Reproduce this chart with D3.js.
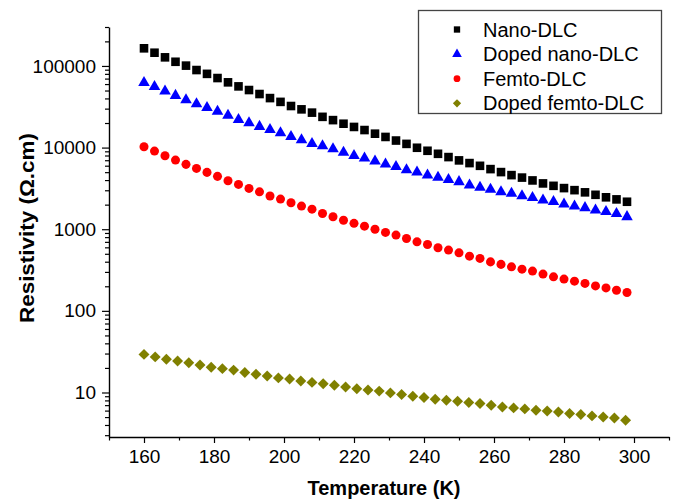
<!DOCTYPE html>
<html>
<head>
<meta charset="utf-8">
<script src="https://cdn.jsdelivr.net/npm/d3@7"></script>
<style>
  html, body { margin: 0; padding: 0; background: #fff; }
  svg { display: block; font-family: "Liberation Sans", Arial, sans-serif; }
</style>
</head>
<body>
<svg id="chart" width="674" height="500"></svg>
<script>
// ---- data ----
const temperature = [160,163,166,169,172,175,178,181,184,187,190,193,196,199,202,205,208,211,214,217,220,223,226,229,232,235,238,241,244,247,250,253,256,259,262,265,268,271,274,277,280,283,286,289,292,295,298];
const temperatureDopedFemto = [160,163.2,166.4,169.6,172.8,176,179.2,182.4,185.6,188.8,192,195.2,198.4,201.6,204.8,208,211.2,214.4,217.6,220.8,224,227.2,230.4,233.6,236.8,240,243.2,246.4,249.6,252.8,256,259.2,262.4,265.6,268.8,272,275.2,278.4,281.6,284.8,288,291.2,294.4,297.6];

const nanoDLC = [164400,145200,127500,112500,100900,89100,80000,71100,63000,56200,50700,45300,40400,36300,32300,29400,26800,23800,21700,19600,17900,16400,14800,13500,12200,11100,9950,9140,8390,7650,6970,6460,5980,5450,5010,4600,4290,3960,3640,3400,3190,3010,2830,2640,2460,2320,2170];
const dopedNanoDLC = [62300,55600,49200,43400,38400,34300,30900,27800,24700,22000,20100,18100,16600,15100,13600,12400,11200,10500,9640,8730,7980,7430,6830,6280,5820,5340,5010,4600,4310,4050,3810,3470,3250,3070,2870,2750,2560,2430,2270,2170,2030,1920,1830,1710,1640,1550,1420];
const femtoDLC = [10230,9060,7940,7030,6230,5560,4970,4440,3920,3540,3160,2870,2550,2340,2110,1920,1760,1560,1420,1290,1180,1090,1000,914,847,771,701,651,592,555,514,468,439,398,371,346,324,307,282,261,245,231,217,202,191,179,168];
const dopedFemtoDLC = [29.3,27.3,25.6,24.3,23.2,21.7,20.4,19.6,18.8,17.6,16.7,15.9,15.1,14.6,13.8,13.3,12.8,12.3,11.7,11.1,10.7,10.4,9.89,9.44,9.02,8.69,8.28,8.05,7.82,7.54,7.33,6.99,6.66,6.48,6.30,6.07,5.95,5.78,5.53,5.38,5.17,5.02,4.88,4.58];

const seriesNames = ["Nano-DLC", "Doped nano-DLC", "Femto-DLC", "Doped femto-DLC"];
const seriesColors = ["#000000", "#0000ff", "#ff0000", "#808000"];

const xMajorTicks = [160,180,200,220,240,260,280,300];
const xMinorTicks = [150,170,190,210,230,250,270,290,310];
const yMajorTicks = [10,100,1000,10000,100000];
const yMinorTicks = [3,4,5,6,7,8,9,20,30,40,50,60,70,80,90,200,300,400,500,600,700,800,900,2000,3000,4000,5000,6000,7000,8000,9000,20000,30000,40000,50000,60000,70000,80000,90000,200000,300000];

const xTitle = "Temperature (K)";
const yTitle = "Resistivity (\u03A9.cm)";

// ---- layout ----
const svg = d3.select("#chart");
const mLeft = 109, mRight = 669, mTop = 27, mBottom = 437;

const x = d3.scaleLinear().domain([150, 310]).range([mLeft, mRight]);
const y = d3.scaleLog().domain([2.85, 300000]).range([mBottom, mTop]);

const tickFont = "19px";

// x axis minor
svg.append("g").attr("transform", `translate(0,${mBottom})`)
  .call(d3.axisBottom(x).tickValues(xMinorTicks).tickSize(3.5).tickSizeOuter(0).tickFormat(""))
  .call(g => g.select(".domain").remove());
// x axis major
const gx = svg.append("g").attr("transform", `translate(0,${mBottom})`)
  .call(d3.axisBottom(x).tickValues(xMajorTicks).tickSize(6).tickSizeOuter(0).tickPadding(7).tickFormat(d3.format("d")));
gx.selectAll("text").attr("font-size", tickFont).attr("fill", "#000").attr("font-family", "Liberation Sans, Arial, sans-serif");

// y axis minor
svg.append("g").attr("transform", `translate(${mLeft},0)`)
  .call(d3.axisLeft(y).tickValues(yMinorTicks).tickSize(4).tickSizeOuter(0).tickFormat(""))
  .call(g => g.select(".domain").remove());
// y axis major
const gy = svg.append("g").attr("transform", `translate(${mLeft},0)`)
  .call(d3.axisLeft(y).tickValues(yMajorTicks).tickSize(7).tickSizeOuter(0).tickPadding(6).tickFormat(d3.format("d")));
gy.selectAll("text").attr("font-size", tickFont).attr("fill", "#000").attr("font-family", "Liberation Sans, Arial, sans-serif");

svg.selectAll(".domain").attr("stroke", "#000").attr("stroke-width", 1.4);
svg.selectAll(".tick line").attr("stroke", "#000").attr("stroke-width", 1.2);

// axis titles
svg.append("text")
  .attr("x", (mLeft + mRight) / 2 - 5).attr("y", 495)
  .attr("text-anchor", "middle")
  .attr("font-size", "20px").attr("font-weight", "bold")
  .text(xTitle);

svg.append("text")
  .attr("transform", `translate(34,228) rotate(-90)`)
  .attr("text-anchor", "middle")
  .attr("font-size", "21px").attr("font-weight", "bold")
  .attr("textLength", 190).attr("lengthAdjust", "spacingAndGlyphs")
  .text(yTitle);

// ---- markers ----
const sym = [
  d3.symbol(d3.symbolSquare, 74),
  d3.symbol(d3.symbolTriangle, 58),
  d3.symbol(d3.symbolCircle, 64),
  d3.symbol(d3.symbolSquare, 60)
];
const rot = [0, 0, 0, 45];

const datasets = [
  temperature.map((t, i) => [t, nanoDLC[i]]),
  temperature.map((t, i) => [t, dopedNanoDLC[i]]),
  temperature.map((t, i) => [t, femtoDLC[i]]),
  temperatureDopedFemto.map((t, i) => [t, dopedFemtoDLC[i]])
];

datasets.forEach((data, k) => {
  svg.append("g").selectAll("path")
    .data(data).join("path")
    .attr("d", sym[k])
    .attr("transform", d => `translate(${x(d[0])},${y(d[1])}) rotate(${rot[k]})`)
    .attr("fill", seriesColors[k]);
});

// ---- legend ----
const lg = svg.append("g");
lg.append("rect").attr("x", 418.5).attr("y", 10.5).attr("width", 243).attr("height", 103)
  .attr("fill", "#fff").attr("stroke", "#444").attr("stroke-width", 1.3);
const legSym = [
  d3.symbol(d3.symbolSquare, 40),
  d3.symbol(d3.symbolTriangle, 40),
  d3.symbol(d3.symbolCircle, 36),
  d3.symbol(d3.symbolSquare, 34)
];
seriesNames.forEach((name, k) => {
  const cy = 29.5 + k * 24.6;
  lg.append("path").attr("d", legSym[k])
    .attr("transform", `translate(457,${cy}) rotate(${rot[k]})`)
    .attr("fill", seriesColors[k]);
  lg.append("text").attr("x", 483).attr("y", cy).attr("dy", "0.35em")
    .attr("font-size", "20px").attr("fill", "#000").text(name);
});
</script>
</body>
</html>
